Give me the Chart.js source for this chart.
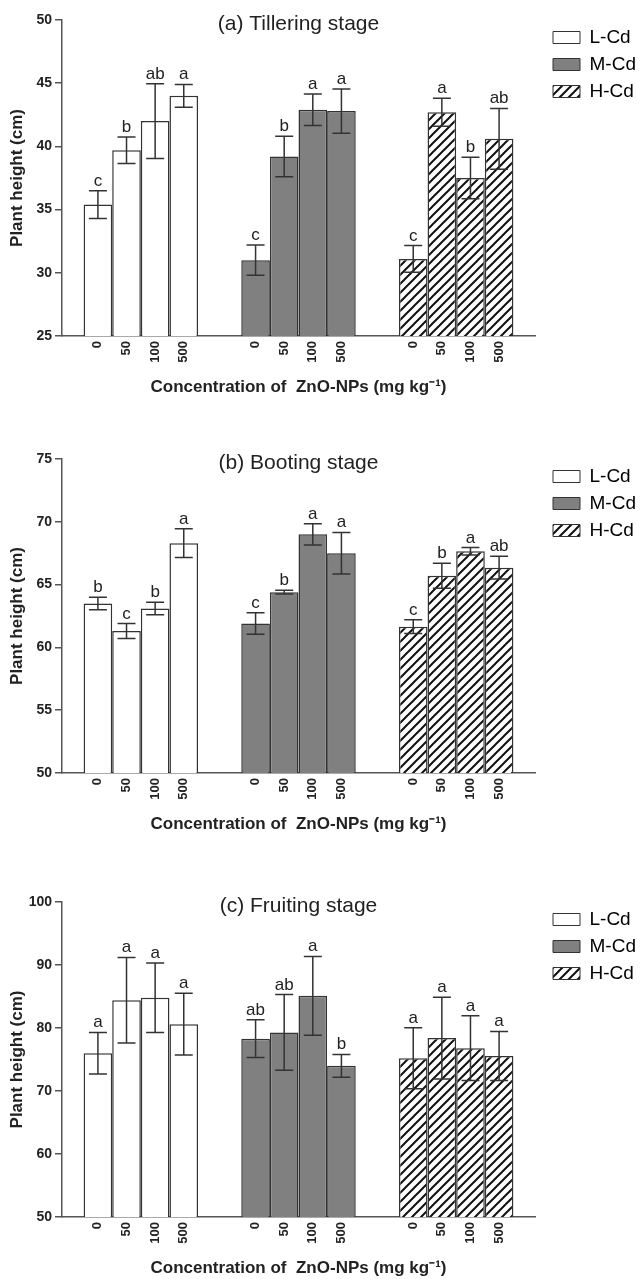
<!DOCTYPE html>
<html>
<head>
<meta charset="utf-8">
<script src="https://cdn.jsdelivr.net/npm/chart.js@4.4.1/dist/chart.umd.min.js"></script>
<style>
  html, body { margin: 0; padding: 0; background: #fff; overflow: hidden; }
  body { width: 641px; height: 1279px; position: relative; }
  canvas { position: absolute; left: 0; }
</style>
</head>
<body>
<canvas id="ca" width="641" height="402" style="top:0px"></canvas>
<canvas id="cb" width="641" height="400" style="top:439px"></canvas>
<canvas id="cc" width="641" height="401" style="top:882px"></canvas>
<script>
// ---------- data ----------
const cdLevels = ['L-Cd', 'M-Cd', 'H-Cd'];
const concentrations = ['0', '50', '100', '500'];
const xAxisTitle = 'Concentration of  ZnO-NPs (mg kg\u207B\u00B9)';
const yAxisTitle = 'Plant height (cm)';

// (a) Tillering stage
const tilleringTitle = '(a) Tillering stage';
const tilleringTicks = [25, 30, 35, 40, 45, 50];
const tilleringL = [35.4, 39.7, 42.0, 44.0];
const tilleringM = [31.0, 39.2, 42.9, 42.8];
const tilleringH = [31.1, 42.7, 37.5, 40.6];
const tilleringErrL = [1.1, 1.05, 2.95, 0.9];
const tilleringErrM = [1.2, 1.6, 1.25, 1.75];
const tilleringErrH = [1.05, 1.1, 1.65, 2.4];
const tilleringLetL = ['c', 'b', 'ab', 'a'];
const tilleringLetM = ['c', 'b', 'a', 'a'];
const tilleringLetH = ['c', 'a', 'b', 'ab'];

// (b) Booting stage
const bootingTitle = '(b) Booting stage';
const bootingTicks = [50, 55, 60, 65, 70, 75];
const bootingL = [63.5, 61.3, 63.1, 68.3];
const bootingM = [61.9, 64.4, 69.0, 67.5];
const bootingH = [61.65, 65.7, 67.65, 66.35];
const bootingErrL = [0.5, 0.6, 0.5, 1.15];
const bootingErrM = [0.85, 0.15, 0.85, 1.65];
const bootingErrH = [0.55, 1.0, 0.3, 0.9];
const bootingLetL = ['b', 'c', 'b', 'a'];
const bootingLetM = ['c', 'b', 'a', 'a'];
const bootingLetH = ['c', 'b', 'a', 'ab'];

// (c) Fruiting stage
const fruitingTitle = '(c) Fruiting stage';
const fruitingTicks = [50, 60, 70, 80, 90, 100];
const fruitingL = [76.0, 84.4, 84.8, 80.6];
const fruitingM = [78.3, 79.3, 85.1, 74.0];
const fruitingH = [75.2, 78.4, 76.8, 75.55];
const fruitingErrL = [3.3, 6.8, 5.5, 4.9];
const fruitingErrM = [3.0, 6.0, 6.25, 1.8];
const fruitingErrH = [4.85, 6.5, 5.15, 3.9];
const fruitingLetL = ['a', 'a', 'a', 'a'];
const fruitingLetM = ['ab', 'ab', 'a', 'b'];
const fruitingLetH = ['a', 'a', 'a', 'a'];

// ---------- styles ----------
const FONT = "'Liberation Sans', Arial, Helvetica, sans-serif";
const INK = '#222';
const AXIS = '#555';

function makeHatch() {
  const s = 9;
  const c = document.createElement('canvas');
  c.width = s; c.height = s;
  const g = c.getContext('2d');
  g.fillStyle = '#fff';
  g.fillRect(0, 0, s, s);
  g.strokeStyle = '#111';
  g.lineWidth = 2;
  g.beginPath();
  g.moveTo(-1, s + 1); g.lineTo(s + 1, -1);
  g.moveTo(-2, 2); g.lineTo(2, -2);
  g.moveTo(s - 2, s + 2); g.lineTo(s + 2, s - 2);
  g.stroke();
  return c.getContext('2d').createPattern(c, 'repeat');
}
const hatch = makeHatch();
const cdFills = ['#ffffff', '#808080', hatch];

const extrasPlugin = {
  id: 'barExtras',
  afterDatasetsDraw(chart, args, opts) {
    const ctx = chart.ctx;
    const y = chart.scales.y;
    const area = chart.chartArea;
    ctx.save();
    chart.data.datasets.forEach((ds, i) => {
      const meta = chart.getDatasetMeta(i);
      meta.data.forEach((bar, j) => {
        const mean = ds.data[j];
        const err = opts.errors[j][i];
        const yTop = y.getPixelForValue(mean + err);
        const yBot = y.getPixelForValue(mean - err);
        const x = bar.x;
        ctx.strokeStyle = '#333';
        ctx.lineWidth = 1.5;
        ctx.beginPath();
        ctx.moveTo(x, yTop); ctx.lineTo(x, yBot);
        ctx.moveTo(x - 9, yTop); ctx.lineTo(x + 9, yTop);
        ctx.moveTo(x - 9, yBot); ctx.lineTo(x + 9, yBot);
        ctx.stroke();
        // significance letter
        ctx.fillStyle = INK;
        ctx.font = '17px ' + FONT;
        ctx.textAlign = 'center';
        ctx.textBaseline = 'alphabetic';
        ctx.fillText(opts.letters[j][i], x, yTop - 5);
        // rotated concentration label
        ctx.save();
        ctx.translate(x, area.bottom + 5);
        ctx.rotate(-Math.PI / 2);
        ctx.font = 'bold 13px ' + FONT;
        ctx.textAlign = 'right';
        ctx.textBaseline = 'middle';
        ctx.fillText(concentrations[i], 0, 0);
        ctx.restore();
      });
    });
    ctx.restore();
  }
};

function makeChart(id, title, ticks, means, errors, letters) {
  const datasets = concentrations.map((c, i) => ({
    label: c + ' mg kg\u207B\u00B9',
    data: cdLevels.map((_, j) => means[j][i]),
    backgroundColor: cdFills,
    borderColor: '#333',
    borderWidth: 1.5,
    borderSkipped: false,
    categoryPercentage: 0.726,
    barPercentage: 1.0
  }));
  return new Chart(document.getElementById(id), {
    type: 'bar',
    data: { labels: cdLevels, datasets },
    plugins: [extrasPlugin],
    options: {
      responsive: false,
      animation: false,
      devicePixelRatio: 1,
      layout: { padding: { left: 3, right: 0, top: 0, bottom: 0 } },
      scales: {
        x: {
          type: 'category',
          grid: { display: false },
          border: { display: true, color: AXIS, width: 1.5 },
          ticks: { display: false },
          title: {
            display: true, text: xAxisTitle, color: INK,
            font: { family: FONT, size: 17, weight: 'bold' },
            padding: { top: 4, bottom: 4 }
          },
          afterFit: s => { s.height = 66; }
        },
        y: {
          type: 'linear',
          min: ticks[0],
          max: ticks[ticks.length - 1],
          afterBuildTicks: s => { s.ticks = ticks.map(v => ({ value: v })); },
          grid: { display: true, drawOnChartArea: false, drawTicks: true, tickLength: 7, color: AXIS, lineWidth: 1.5 },
          border: { display: true, color: AXIS, width: 1.5 },
          ticks: { color: INK, padding: 3, font: { family: FONT, size: 14, weight: 'bold' } },
          title: {
            display: true, text: yAxisTitle, color: INK,
            font: { family: FONT, size: 17, weight: 'bold' },
            padding: { top: 4, bottom: 4 }
          },
          afterFit: s => { s.width = 59; }
        },
        yr: {
          type: 'linear', axis: 'y', position: 'right', display: true,
          grid: { display: false }, border: { display: false }, ticks: { display: false },
          afterFit: s => { s.width = 10; }
        }
      },
      plugins: {
        title: {
          display: true, text: title, position: 'top', fullSize: false, align: 'center',
          color: INK, font: { family: FONT, size: 21, weight: 'normal' },
          padding: { top: 11.4, bottom: -16.6 }
        },
        legend: {
          display: true, position: 'right', align: 'start', fullSize: false, maxWidth: 96,
          onClick: null,
          labels: {
            boxWidth: 27, boxHeight: 12, padding: 8, color: INK,
            font: { family: FONT, size: 19 },
            generateLabels: () => cdLevels.map((name, j) => ({
              text: name, fillStyle: cdFills[j], strokeStyle: '#333', lineWidth: 1, hidden: false, index: j
            }))
          }
        },
        tooltip: { enabled: false },
        barExtras: { errors, letters }
      }
    }
  });
}

makeChart('ca', tilleringTitle, tilleringTicks,
  [tilleringL, tilleringM, tilleringH],
  [tilleringErrL, tilleringErrM, tilleringErrH],
  [tilleringLetL, tilleringLetM, tilleringLetH]);
makeChart('cb', bootingTitle, bootingTicks,
  [bootingL, bootingM, bootingH],
  [bootingErrL, bootingErrM, bootingErrH],
  [bootingLetL, bootingLetM, bootingLetH]);
makeChart('cc', fruitingTitle, fruitingTicks,
  [fruitingL, fruitingM, fruitingH],
  [fruitingErrL, fruitingErrM, fruitingErrH],
  [fruitingLetL, fruitingLetM, fruitingLetH]);
</script>
</body>
</html>
